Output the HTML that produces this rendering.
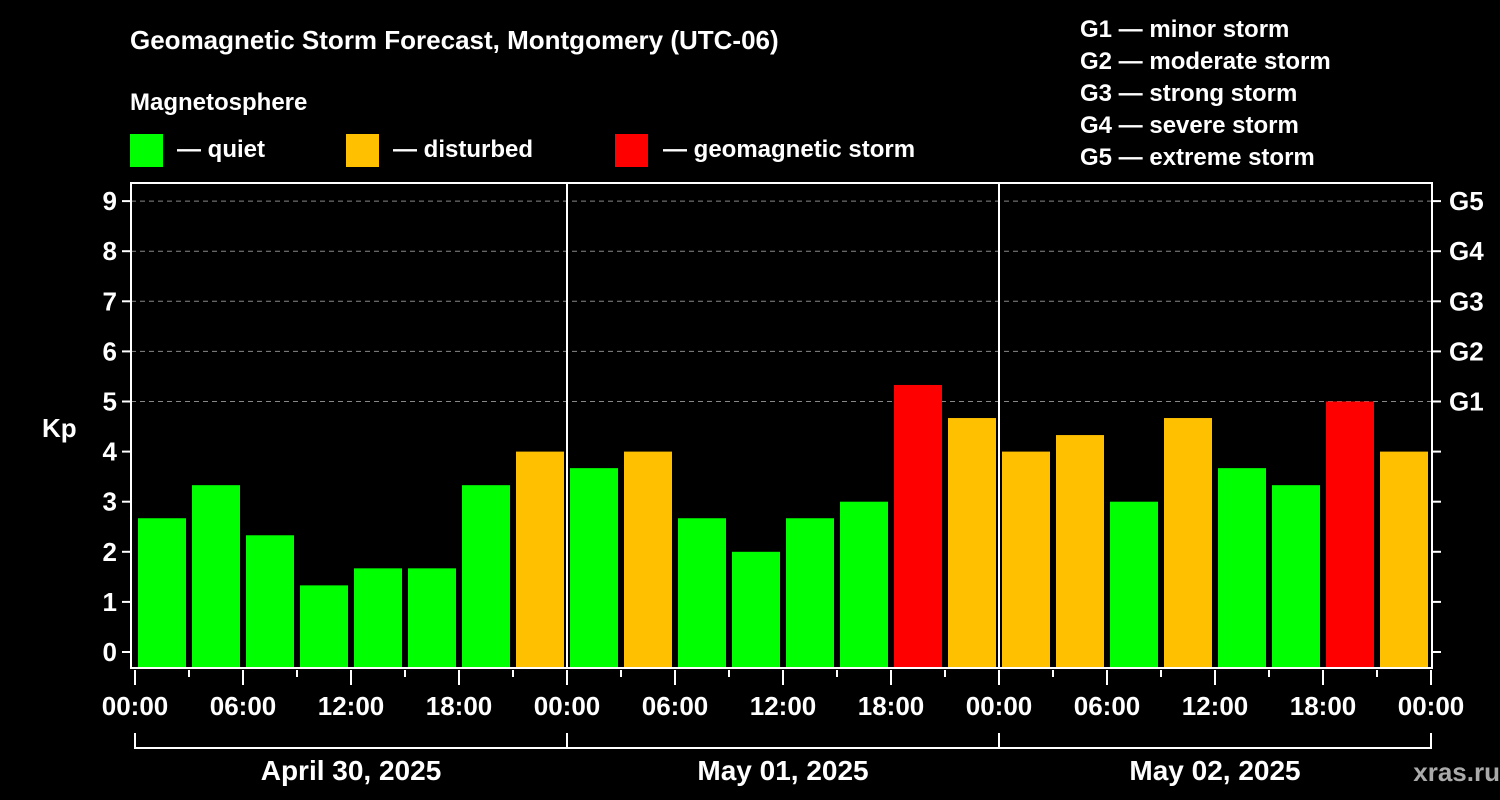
<!DOCTYPE html>
<html><head><meta charset="utf-8"><style>
html,body{margin:0;padding:0;background:#000;}
svg{display:block;font-family:"Liberation Sans",Arial,sans-serif;font-weight:bold;}
</style></head><body>
<svg id="chart" width="1500" height="800" viewBox="0 0 1500 800">
<rect width="1500" height="800" fill="#000"/>
<text x="130" y="49" fill="#fff" font-size="26">Geomagnetic Storm Forecast, Montgomery (UTC-06)</text>
<text x="130" y="110" fill="#fff" font-size="24">Magnetosphere</text>
<g><rect x="130" y="134" width="33" height="33" fill="#00ff00"/><text x="177" y="157" fill="#fff" font-size="24">— quiet</text></g>
<g><rect x="346" y="134" width="33" height="33" fill="#ffc000"/><text x="393" y="157" fill="#fff" font-size="24">— disturbed</text></g>
<g><rect x="615" y="134" width="33" height="33" fill="#ff0000"/><text x="663" y="157" fill="#fff" font-size="24">— geomagnetic storm</text></g>
<g fill="#fff" font-size="24">
<text x="1080" y="37">G1 — minor storm</text><text x="1080" y="69">G2 — moderate storm</text><text x="1080" y="101">G3 — strong storm</text><text x="1080" y="133">G4 — severe storm</text><text x="1080" y="165">G5 — extreme storm</text>
</g>
<text x="42" y="437" fill="#fff" font-size="26">Kp</text>
<g id="grid"></g><g id="bars"></g><g id="axes"></g>
<text x="1500" y="781" fill="#bbb" font-size="26" text-anchor="end" font-weight="normal" style="font-weight:bold;fill:#aaa">xras.ru  </text>
</svg>
<script>
const kpValues = [2.67,3.33,2.33,1.33,1.67,1.67,3.33,4, 3.67,4,2.67,2,2.67,3,5.33,4.67, 4,4.33,3,4.67,3.67,3.33,5,4];
const yTicks = [0,1,2,3,4,5,6,7,8,9];
const gLabels = ["G1","G2","G3","G4","G5"];
const gLevels = [5,6,7,8,9];
const timeLabels = ["00:00","06:00","12:00","18:00"];
const dayLabels = ["April 30, 2025","May 01, 2025","May 02, 2025"];
const NS="http://www.w3.org/2000/svg";
const X0=135, DAYW=432, SLOT=DAYW/8, PL=131, PR=1432, PT=183, PB=668;
const y=v=>652-v*50.1;
const x=i=>X0+i*SLOT;
function mk(tag,attrs,parent,text){const e=document.createElementNS(NS,tag);for(const k in attrs)e.setAttribute(k,attrs[k]);if(text!==undefined)e.textContent=text;document.getElementById(parent).appendChild(e);return e;}
gLevels.forEach((g,i)=>{
  const l=mk('line',{x1:PL,x2:PR,y1:y(g),y2:y(g),stroke:'#888','stroke-dasharray':'5,4','stroke-width':1},'grid');
  
  
});
kpValues.forEach((v,i)=>{
  const c=v>=5?'#ff0000':(v>=4?'#ffc000':'#00ff00');
  const r=mk('rect',{x:x(i)+3,y:y(v),width:SLOT-6,height:PB-1-y(v),fill:c},'bars');
  
  
});
const fr=mk('rect',{x:PL,y:PT,width:PR-PL,height:PB-PT,fill:'none',stroke:'#fff','stroke-width':2},'axes');


[1,2].forEach(d=>{
  const l=mk('line',{x1:X0+d*DAYW,x2:X0+d*DAYW,y1:PT,y2:PB,stroke:'#fff','stroke-width':2},'axes');
  
  
});
yTicks.forEach(t=>{
  mk('line',{x1:PL-9,x2:PL,y1:y(t),y2:y(t),stroke:'#fff','stroke-width':2},'axes');
  mk('line',{x1:PR,x2:PR+9,y1:y(t),y2:y(t),stroke:'#fff','stroke-width':2},'axes');
  const tx=mk('text',{x:117,y:y(t)+9,fill:'#fff','font-size':26,'text-anchor':'end'},'axes',String(t));
  
  
});
gLevels.forEach((g,i)=>{
  const tx=mk('text',{x:1449,y:y(g)+9,fill:'#fff','font-size':26},'axes',gLabels[i]);
  
  
});
for(let i=0;i<=24;i++){
  const major=i%2===0;
  mk('line',{x1:x(i),x2:x(i),y1:PB+2,y2:PB+(major?17:9),stroke:'#fff','stroke-width':2},'axes');
  if(major){
    const lab=i===24?"00:00":timeLabels[(i/2)%4];
    const tx=mk('text',{x:x(i),y:715,fill:'#fff','font-size':26,'text-anchor':'middle'},'axes',lab);
    
    
  }
}
mk('line',{x1:X0,x2:X0+3*DAYW,y1:748,y2:748,stroke:'#fff','stroke-width':2},'axes');
for(let d=0;d<=3;d++) mk('line',{x1:X0+d*DAYW,x2:X0+d*DAYW,y1:733,y2:749,stroke:'#fff','stroke-width':2},'axes');
dayLabels.forEach((s,d)=>{
  const tx=mk('text',{x:X0+d*DAYW+DAYW/2,y:780,fill:'#fff','font-size':28,'text-anchor':'middle'},'axes',s);
  
  
});
</script>
</body></html>
